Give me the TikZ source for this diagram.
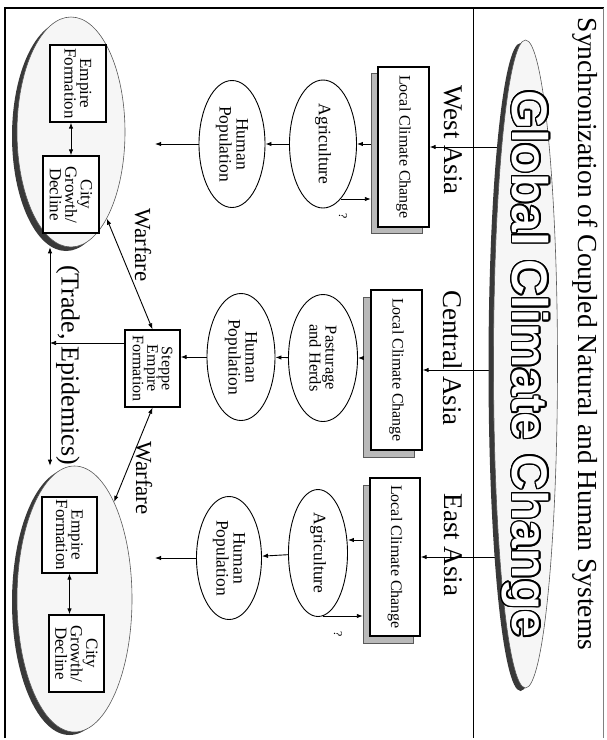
\documentclass[tikz,border=0pt]{standalone}
\usepackage{fontspec}
\setmainfont{Liberation Serif}
\newfontfamily\gccfont{Liberation Sans}
\usetikzlibrary{shapes.geometric,arrows.meta,calc}
\pgfdeclarelayer{bg}
\pgfsetlayers{bg,main}
\newcommand\gcctext{\gccfont\bfseries\fontsize{50}{50}\selectfont Global Climate Change}
\begin{document}
\begin{tikzpicture}[x=1pt,y=-1pt,
  rot/.style={rotate=-90},
  arr/.style={-{Latex[length=6pt,width=4.5pt]}, line width=0.9pt},
  arrr/.style={{Latex[length=6pt,width=4.5pt]}-{Latex[length=6pt,width=4.5pt]}, line width=0.9pt},
  sbox/.style={rot, draw, line width=1.3pt, fill=white, inner sep=0pt, align=center, font=\fontsize{16}{15}\selectfont},
  shbox/.style={rot, draw=gray!70!black, fill=gray!55, inner sep=0pt},
  ell/.style={rot, ellipse, draw, line width=0.9pt, fill=white, inner sep=0pt, align=center, font=\fontsize{17.5}{17}\selectfont},
  bigell/.style={rot, ellipse, draw=gray!70!black, line width=0.6pt, fill=gray!7, inner sep=0pt},
  shell/.style={rot, ellipse, fill=gray!45!black, inner sep=0pt},
  region/.style={rot, inner sep=0pt, font=\fontsize{27}{27}\selectfont},
  warlbl/.style={rot, inner sep=0pt, font=\fontsize{23}{23}\selectfont},
  qmark/.style={rot, inner sep=0pt, font=\fontsize{12}{12}\selectfont},
  inbox/.style={sbox, font=\fontsize{17}{15.5}\selectfont}
]
\useasboundingbox (0,0) rectangle (607,740);
% frame
\draw[line width=1.1pt] (5,738) -- (5,8) -- (604,8);
\draw[line width=0.7pt] (473,8) -- (473,738);
\draw[line width=0.5pt, gray] (603,8) -- (603,738);

% title
\node[rot, inner sep=0pt, font=\fontsize{27.5}{27.5}\selectfont] (title) at (585,334) {Synchronization of Coupled Natural and Human Systems};

% global climate change
\node[shell, minimum width=648pt, minimum height=64pt] (gccs) at (520.5,367) {};
\node[bigell, minimum width=648pt, minimum height=64pt] (gcc) at (525.5,364) {};
\foreach \a in {0,20,...,340}
  \node[rot, inner sep=0pt, text=black] at ($(gcc)+(\a:1.4)$) {\gcctext};
\node[rot, inner sep=0pt, text=white] (gcct) at (gcc) {\gcctext};

% region labels
\node[region] (lW) at (453,140) {West Asia};
\node[region] (lC) at (453,358) {Central Asia};
\node[region] (lE) at (453,545) {East Asia};

% local climate change boxes
\node[shbox, minimum width=160pt, minimum height=51pt] (lccWs) at (396.5,153) {};
\node[sbox, minimum width=160pt, minimum height=51pt] (lccW) at (403.5,147) {Local Climate Change};
\node[shbox, minimum width=160pt, minimum height=51pt] (lccCs) at (388.5,377) {};
\node[sbox, minimum width=160pt, minimum height=51pt] (lccC) at (396.5,370) {Local Climate Change};
\node[shbox, minimum width=158pt, minimum height=50pt] (lccEs) at (388,564) {};
\node[sbox, minimum width=158pt, minimum height=50pt] (lccE) at (395,557) {Local Climate Change};

% second column ellipses
\node[ell, minimum width=128pt, minimum height=67pt] (agW) at (323,144) {Agriculture};
\node[ell, minimum width=127pt, minimum height=69pt, font=\fontsize{16.5}{16}\selectfont] (paC) at (323,358) {Pasturage\\and Herds};
\node[ell, minimum width=127pt, minimum height=59pt] (agE) at (318,553) {Agriculture};

% human population ellipses
\node[ell, minimum width=127pt, minimum height=66pt] (hpW) at (232,144) {Human\\Population};
\node[ell, minimum width=127pt, minimum height=68pt] (hpC) at (241,357) {Human\\Population};
\node[ell, minimum width=123pt, minimum height=65pt] (hpE) at (229,558) {Human\\Population};

% question marks
\node[qmark] (qW) at (343,216) {?};
\node[qmark] (qE) at (338,634) {?};

% empire ellipses
\node[shell, minimum width=230pt, minimum height=108pt] (empWs) at (66,136) {};
\node[bigell, minimum width=230pt, minimum height=108pt] (empW) at (71,132) {};
\node[shell, minimum width=266pt, minimum height=115pt] (empEs) at (69.5,602) {};
\node[bigell, minimum width=266pt, minimum height=115pt] (empE) at (74.5,599) {};

% boxes inside
\node[inbox, minimum width=77pt, minimum height=56pt] (efW) at (78,83.5) {Empire\\Formation};
\node[inbox, minimum width=77pt, minimum height=56pt] (cgW) at (71,194.5) {City\\Growth/\\Decline};
\node[inbox, minimum width=76pt, minimum height=55pt] (efE) at (69.5,535) {Empire\\Formation};
\node[inbox, minimum width=77pt, minimum height=55pt] (cgE) at (76.5,653.5) {City\\Growth/\\Decline};

% steppe
\node[sbox, minimum width=77pt, minimum height=55pt, font=\fontsize{16}{14.5}\selectfont] (st) at (152.5,368.5) {Steppe\\Empire\\Formation};

% labels
\node[warlbl] (wf1) at (143,245) {Warfare};
\node[warlbl] (wf2) at (144,478) {Warfare};
\node[rot, inner sep=0pt, font=\fontsize{26}{26}\selectfont] (trd) at (68,365) {(Trade, Epidemics)};

% connectors from global (behind)
\begin{pgfonlayer}{bg}
\draw[arr] (gcc.center |- lccW) -- (lccW.north);
\draw[arr] (gcc.center |- lccC) -- (lccC.north);
\draw[arr] (gcc.center |- lccE) -- (lccE.north);
\end{pgfonlayer}

% chains
\draw[arr] (lccWs.south |- agW) -- (agW);
\draw[arr] (agW) -- (hpW);
\draw[arr] (lccCs.south |- paC) -- (paC);
\draw[arr] (paC) -- (hpC);
\draw[arr] (lccEs.south |- 0,540) -- (agE.north |- 0,540);
\draw[arr] (agE) -- (hpE);

% return arrows
\coordinate (rW) at (341,199);
\coordinate (rE) at (323,616);
\draw[arr] (rW) -- (rW -| lccWs.south);
\draw[arr] (rE) -- (rE -| lccEs.south);

% to empires
\coordinate (hpWe) at (155,144);
\coordinate (hpEe) at (155,558);
\draw[arr] (hpW.south) -- (hpWe);
\draw[arr] (hpE.south) -- (hpEe);
\draw[arr] (hpC.south) -- (hpC.south -| st.north);

% inside empires
\draw[arrr] (cgW.west |- efW.east) -- (cgW.west);
\draw[arrr] (efE.east) -- (efE.east |- cgE.west);

% warfare
\draw[arrr] (st.west) -- (empW);
\draw[arrr] (st.east) -- (empE);

% trade
\coordinate (tr) at (50,343);
\draw[arr, line width=0.7pt] (st.south |- tr) -- (tr);
\draw[arrr] (empW.east -| tr) -- (empE.west -| tr);
\end{tikzpicture}
\end{document}
